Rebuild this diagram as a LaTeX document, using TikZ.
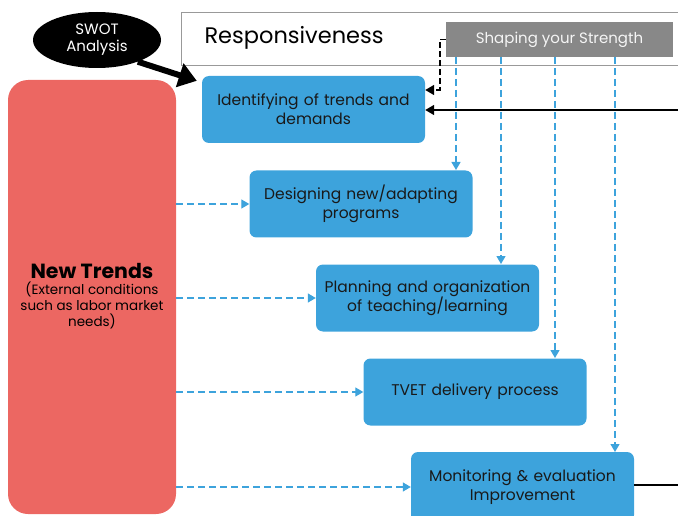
\documentclass[tikz,border=0pt]{standalone}
\usepackage{fontspec}
\setmainfont{Poppins}
\usetikzlibrary{arrows.meta,shapes.geometric}
\definecolor{stepblue}{HTML}{3DA3DC}
\definecolor{trendred}{HTML}{EC6762}
\definecolor{shapegray}{HTML}{888888}
\tikzstyle{stagebox}=[draw=none,fill=stepblue,rounded corners=7pt,inner sep=0pt,
  minimum width=223pt,minimum height=67pt,align=center,text width=218pt,
  font=\fontsize{15.5}{19}\selectfont,text=black!90]
\tikzstyle{feed}=[stepblue,dash pattern=on 7pt off 4pt,line width=1.3pt,-{Triangle[length=8pt,width=9pt]}]
\tikzstyle{link}=[black,line width=1.5pt,-{Triangle[length=9pt,width=10pt]}]

\begin{document}
\begin{tikzpicture}[x=1pt,y=-1pt]
  \useasboundingbox (0,0) rectangle (678,516);
  % header
  \draw[gray!80,line width=1pt,fill=white] (181,13) rectangle (700,66);
  \node[anchor=west,font=\fontsize{22.5}{26}\selectfont] (resp) at (201,38) {Responsiveness};
  \node[fill=shapegray,text=white!92!gray,minimum width=227pt,minimum height=35pt,inner sep=0pt,
    font=\fontsize{15}{18}\selectfont] (shape) at (559.5,39.5) {Shaping your Strength};
  % new trends
  \node[fill=trendred,rounded corners=20pt,minimum width=168pt,minimum height=434pt,inner sep=0pt] (trend) at (92,297) {};
  \node[align=center,font=\fontsize{13.5}{16}\selectfont] (trendtxt) at (92,296)
    {{\fontsize{20.5}{25}\selectfont\bfseries New Trends}\\(External conditions\\such as labor market\\needs)};
  % stages
  \node[stagebox] (s1) at (313.5,109.5) {Identifying of trends and\\demands};
  \node[stagebox] (s2) at (361,204) {Designing new/adapting\\programs};
  \node[stagebox] (s3) at (427.5,298) {Planning and organization\\of teaching/learning};
  \node[stagebox] (s4) at (475,392) {TVET delivery process};
  \node[stagebox,minimum height=70pt] (s5) at (522.5,487) {Monitoring \& evaluation\\Improvement};
  % swot
  \node[ellipse,fill=black,text=white,minimum width=128pt,minimum height=56pt,inner sep=0pt,
    align=center,font=\fontsize{15}{17}\selectfont] (swot) at (97,40) {SWOT\\Analysis};
  \draw[black,line width=6pt,-{Triangle[length=18pt,width=24pt]}] (swot.-28) -- ([xshift=-5pt,yshift=-5pt]s1.north west);
  % from new trends
  \foreach \s in {s2,s3,s4,s5}
    \draw[feed] (trend.east |- \s.west) -- (\s.west);
  % from shaping your strength
  \draw[feed] (456,57) -- (456,170);
  \draw[feed] (501,57) -- (501,264);
  \draw[feed] (555,57) -- (555,358);
  \draw[feed] (615,57) -- (615,452);
  \draw[link,dash pattern=on 6pt off 3pt] (shape.west) -- ++(-6,0) |- (s1.east |- 0,90);
  \coordinate (rin) at (680,110);
  \coordinate (rout) at (680,485);
  \draw[link] (rin) -- (s1.east |- rin);
  \draw[black,line width=1.5pt] (s5.east |- rout) -- (rout);
\end{tikzpicture}
\end{document}
